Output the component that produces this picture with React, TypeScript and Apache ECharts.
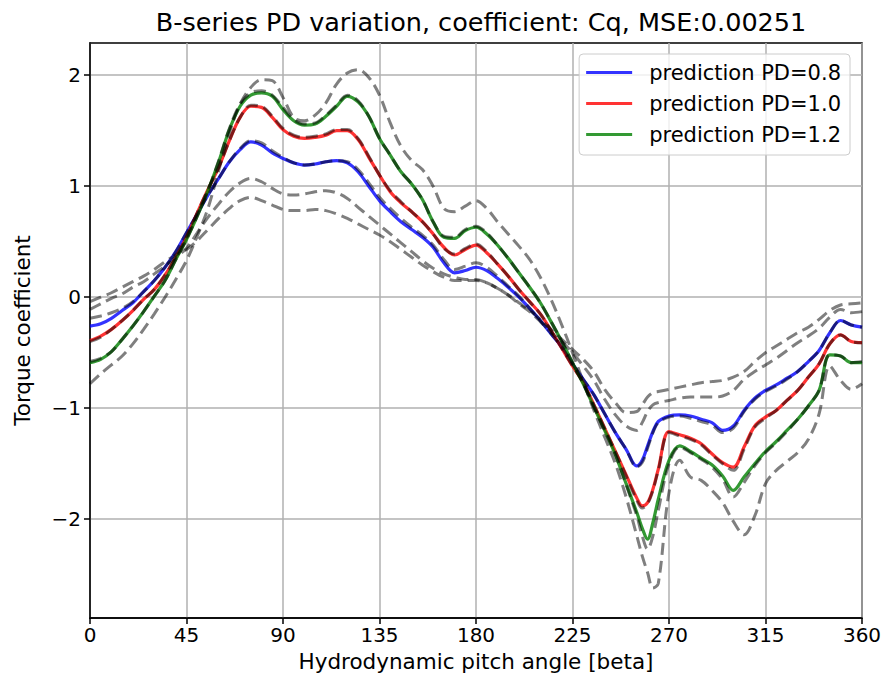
import React, { useEffect, useRef } from "react";
import * as echarts from "echarts";

// Hydrodynamic pitch angle grid (degrees)
const angles = [
  0, 5, 10, 15, 20, 25, 30, 35, 40, 45, 50, 55, 60, 65, 70, 75, 80, 85, 90, 95,
  100, 105, 110, 115, 120, 125, 130, 135, 140, 145, 150, 155, 160, 165, 170, 175,
  180, 185, 190, 195, 200, 205, 210, 215, 220, 225, 230, 235, 240, 245, 250, 255,
  257.5, 260, 262.5, 265, 270, 275, 280, 285, 290, 295, 300, 305, 310, 315, 320,
  325, 330, 335, 340, 345, 350, 355, 360,
];

// Predictions
const predPD08 = [
  -0.26, -0.24, -0.19, -0.12, -0.05, 0.05, 0.15, 0.27, 0.41, 0.58, 0.75, 0.92, 1.07, 1.22, 1.33, 1.40, 1.37, 1.30, 1.25, 1.21,
  1.19, 1.20, 1.22, 1.23, 1.21, 1.13, 1.00, 0.87, 0.77, 0.68, 0.61, 0.54, 0.45, 0.31, 0.22, 0.24,
  0.27, 0.24, 0.17, 0.09, 0.00, -0.10, -0.21, -0.33, -0.45, -0.60, -0.74, -0.88, -1.05, -1.22, -1.37, -1.52,
  -1.47, -1.34, -1.21, -1.12, -1.07, -1.06, -1.07, -1.10, -1.13, -1.20, -1.16, -1.02, -0.91, -0.84, -0.79,
  -0.73, -0.67, -0.58, -0.48, -0.32, -0.21, -0.25, -0.27,
];
const predPD10 = [
  -0.39, -0.35, -0.29, -0.21, -0.12, -0.02, 0.07, 0.20, 0.36, 0.54, 0.76, 0.97, 1.17, 1.41, 1.62, 1.72, 1.71, 1.62, 1.51, 1.45,
  1.43, 1.44, 1.46, 1.50, 1.50, 1.42, 1.26, 1.10, 0.95, 0.85, 0.77, 0.68, 0.57, 0.45, 0.38, 0.43,
  0.47, 0.40, 0.30, 0.19, 0.07, -0.04, -0.15, -0.30, -0.46, -0.62, -0.77, -0.97, -1.18, -1.39, -1.60, -1.81,
  -1.88, -1.85, -1.73, -1.55, -1.21, -1.24, -1.27, -1.32, -1.41, -1.49, -1.53, -1.35, -1.16, -1.08, -1.02,
  -0.93, -0.84, -0.72, -0.60, -0.42, -0.34, -0.40, -0.41,
];
const predPD12 = [
  -0.59, -0.56, -0.49, -0.38, -0.26, -0.13, 0.01, 0.15, 0.34, 0.52, 0.73, 0.96, 1.22, 1.51, 1.72, 1.82, 1.84, 1.81, 1.69, 1.59,
  1.55, 1.56, 1.63, 1.72, 1.81, 1.76, 1.63, 1.43, 1.28, 1.13, 1.02, 0.88, 0.68, 0.54, 0.53, 0.60,
  0.63, 0.57, 0.47, 0.35, 0.22, 0.09, -0.05, -0.22, -0.40, -0.59, -0.78, -0.99, -1.20, -1.42, -1.68, -1.94,
  -2.08, -2.18, -2.03, -1.82, -1.47, -1.34, -1.39, -1.45, -1.51, -1.61, -1.74, -1.62, -1.50, -1.39, -1.30,
  -1.20, -1.10, -0.98, -0.84, -0.52, -0.53, -0.59, -0.59,
];

// Reference data (dashed)
const truePD05 = [
  -0.04, 0.00, 0.04, 0.09, 0.14, 0.19, 0.25, 0.32, 0.38, 0.43, 0.51, 0.61, 0.71, 0.80, 0.87, 0.90, 0.87, 0.83, 0.79, 0.78,
  0.78, 0.79, 0.78, 0.75, 0.71, 0.66, 0.61, 0.56, 0.50, 0.43, 0.36, 0.29, 0.23, 0.18, 0.15, 0.15,
  0.15, 0.13, 0.08, 0.02, -0.05, -0.12, -0.20, -0.29, -0.38, -0.47, -0.56, -0.67, -0.83, -0.95, -1.04, -1.03,
  -0.97, -0.90, -0.86, -0.85, -0.83, -0.81, -0.79, -0.77, -0.76, -0.75, -0.72, -0.67, -0.58, -0.50, -0.44,
  -0.38, -0.32, -0.27, -0.20, -0.12, -0.07, -0.06, -0.05,
];
const truePD06 = [
  -0.11, -0.06, -0.01, 0.03, 0.09, 0.14, 0.21, 0.28, 0.36, 0.44, 0.58, 0.72, 0.84, 0.95, 1.03, 1.07, 1.04, 0.98, 0.93, 0.92,
  0.93, 0.95, 0.96, 0.94, 0.89, 0.81, 0.73, 0.65, 0.57, 0.49, 0.41, 0.33, 0.26, 0.21, 0.18, 0.16,
  0.16, 0.13, 0.08, 0.02, -0.06, -0.13, -0.22, -0.32, -0.40, -0.50, -0.62, -0.75, -0.92, -1.06, -1.16, -1.20,
  -1.13, -1.03, -0.97, -0.95, -0.93, -0.91, -0.90, -0.90, -0.90, -0.89, -0.84, -0.74, -0.67, -0.61, -0.55,
  -0.48, -0.41, -0.35, -0.28, -0.18, -0.11, -0.14, -0.13,
];
const truePD08 = [
  -0.19, -0.17, -0.14, -0.10, -0.04, 0.05, 0.15, 0.27, 0.41, 0.58, 0.75, 0.92, 1.07, 1.22, 1.34, 1.41, 1.39, 1.32, 1.26, 1.21,
  1.19, 1.20, 1.22, 1.23, 1.22, 1.15, 1.03, 0.90, 0.80, 0.71, 0.63, 0.56, 0.47, 0.34, 0.25, 0.28,
  0.31, 0.27, 0.19, 0.10, 0.01, -0.10, -0.21, -0.33, -0.45, -0.60, -0.74, -0.88, -1.05, -1.22, -1.37, -1.53,
  -1.49, -1.36, -1.22, -1.13, -1.08, -1.07, -1.09, -1.12, -1.15, -1.22, -1.18, -1.03, -0.92, -0.85, -0.80,
  -0.74, -0.67, -0.58, -0.48, -0.32, -0.21, -0.25, -0.27,
];
const truePD10 = [
  -0.40, -0.36, -0.29, -0.21, -0.12, -0.02, 0.07, 0.20, 0.36, 0.54, 0.76, 0.97, 1.17, 1.41, 1.62, 1.73, 1.72, 1.63, 1.52, 1.46,
  1.44, 1.45, 1.47, 1.51, 1.51, 1.43, 1.27, 1.10, 0.96, 0.86, 0.77, 0.68, 0.57, 0.44, 0.39, 0.44,
  0.48, 0.41, 0.30, 0.19, 0.07, -0.04, -0.15, -0.30, -0.46, -0.62, -0.77, -0.97, -1.18, -1.39, -1.61, -1.83,
  -1.90, -1.86, -1.74, -1.56, -1.22, -1.25, -1.28, -1.33, -1.42, -1.50, -1.56, -1.37, -1.17, -1.09, -1.02,
  -0.93, -0.84, -0.72, -0.60, -0.42, -0.34, -0.40, -0.41,
];
const truePD12 = [
  -0.58, -0.55, -0.49, -0.38, -0.26, -0.13, 0.01, 0.15, 0.34, 0.52, 0.73, 0.96, 1.23, 1.52, 1.74, 1.84, 1.86, 1.82, 1.71, 1.60,
  1.56, 1.57, 1.64, 1.73, 1.82, 1.77, 1.63, 1.43, 1.28, 1.13, 1.02, 0.88, 0.68, 0.55, 0.54, 0.61,
  0.64, 0.58, 0.47, 0.35, 0.22, 0.09, -0.05, -0.22, -0.40, -0.59, -0.78, -0.99, -1.20, -1.42, -1.69, -1.97,
  -2.15, -2.27, -2.15, -1.92, -1.50, -1.35, -1.40, -1.46, -1.53, -1.64, -1.80, -1.67, -1.52, -1.40, -1.31,
  -1.21, -1.10, -0.98, -0.84, -0.52, -0.53, -0.59, -0.58,
];
const truePD14 = [
  -0.78, -0.69, -0.61, -0.53, -0.42, -0.29, -0.15, 0.00, 0.16, 0.33, 0.55, 0.80, 1.14, 1.48, 1.74, 1.89, 1.96, 1.95, 1.80, 1.62,
  1.59, 1.64, 1.75, 1.92, 2.02, 2.05, 1.98, 1.82, 1.57, 1.36, 1.23, 1.15, 1.00, 0.80, 0.77, 0.82,
  0.87, 0.80, 0.68, 0.57, 0.46, 0.34, 0.18, -0.02, -0.25, -0.50, -0.76, -1.02, -1.26, -1.50, -1.80, -2.15,
  -2.33, -2.48, -2.62, -2.58, -1.76, -1.47, -1.62, -1.65, -1.74, -1.85, -2.02, -2.14, -1.97, -1.68, -1.56,
  -1.48, -1.40, -1.28, -1.05, -0.62, -0.75, -0.83, -0.78,
];

const xTicks = [0, 45, 90, 135, 180, 225, 270, 315, 360];
const yTicks = [-2, -1, 0, 1, 2];

const predictions = [
  { name: "prediction PD=0.8", values: predPD08, color: "rgba(0,0,255,0.8)" },
  { name: "prediction PD=1.0", values: predPD10, color: "rgba(255,0,0,0.8)" },
  { name: "prediction PD=1.2", values: predPD12, color: "rgba(0,128,0,0.8)" },
];
const references = [truePD05, truePD06, truePD08, truePD10, truePD12, truePD14];

const FONT = "DejaVu Sans";

export default function App() {
  const ref = useRef<HTMLDivElement>(null);

  useEffect(() => {
    if (!ref.current) return;
    const chart = echarts.init(ref.current, null, { renderer: "svg" });
    const toPairs = (vals: number[]) => angles.map((x, i) => [x, vals[i]]);

    const series: any[] = [];
    predictions.forEach((p) => {
      series.push({
        name: p.name,
        type: "line",
        data: toPairs(p.values),
        smooth: 0.35,
        showSymbol: false,
        symbol: "none",
        lineStyle: { color: p.color, width: 3.2 },
        itemStyle: { color: p.color },
        z: 2,
      });
    });
    references.forEach((r, k) => {
      series.push({
        name: "ref" + k,
        type: "line",
        data: toPairs(r),
        smooth: 0.35,
        showSymbol: false,
        symbol: "none",
        lineStyle: { color: "rgba(0,0,0,0.5)", width: 3, type: [12, 6] },
        z: 3,
      });
    });

    chart.setOption({
      animation: false,
      backgroundColor: "#fff",
      title: {
        text: "B-series PD variation, coefficient: Cq, MSE:0.00251",
        left: 476,
        textAlign: "center",
        top: 4,
        textStyle: { fontFamily: FONT, fontSize: 25.5, fontWeight: "normal", color: "#000" },
      },
      legend: {
        data: predictions.map((p) => p.name),
        orient: "vertical",
        right: 38,
        top: 54,
        icon: "rect",
        itemWidth: 46,
        itemHeight: 3,
        itemGap: 10,
        padding: [8, 9, 10, 7],
        backgroundColor: "rgba(255,255,255,0.8)",
        borderColor: "#cccccc",
        borderWidth: 1,
        borderRadius: 4,
        textStyle: { fontFamily: FONT, fontSize: 21, color: "#000", padding: [0, 0, 0, 12] },
      },
      grid: {
        left: 90,
        top: 43,
        width: 772,
        height: 575,
        show: true,
        borderColor: "#000",
        borderWidth: 1.5,
        backgroundColor: "transparent",
      },
      xAxis: {
        type: "value",
        min: 0,
        max: 360,
        interval: 45,
        name: "Hydrodynamic pitch angle [beta]",
        nameLocation: "middle",
        nameGap: 32,
        nameTextStyle: { fontFamily: FONT, fontSize: 21.5, color: "#000" },
        axisLine: { show: true, onZero: false, lineStyle: { color: "#000", width: 1.5 } },
        axisTick: { show: true, length: 6, lineStyle: { color: "#000", width: 1.5 } },
        axisLabel: {
          fontFamily: FONT,
          fontSize: 20,
          color: "#000",
          margin: 7,
          customValues: xTicks,
        },
        splitLine: { show: true, lineStyle: { color: "#b0b0b0", width: 1.5 } },
      },
      yAxis: {
        type: "value",
        min: -2.89,
        max: 2.29,
        name: "Torque coefficient",
        nameLocation: "middle",
        nameGap: 57,
        nameTextStyle: { fontFamily: FONT, fontSize: 21.5, color: "#000" },
        axisLine: { show: true, onZero: false, lineStyle: { color: "#000", width: 1.5 } },
        axisTick: {
          show: true,
          length: 6,
          lineStyle: { color: "#000", width: 1.5 },
          customValues: yTicks,
        },
        axisLabel: {
          fontFamily: FONT,
          fontSize: 20,
          color: "#000",
          margin: 9,
          customValues: yTicks,
          formatter: (v: number) => (v < 0 ? "\u2212" + Math.abs(v) : String(v)),
        },
        splitLine: { show: true, lineStyle: { color: "#b0b0b0", width: 1.5 } },
      },
      series,
    });

    return () => chart.dispose();
  }, []);

  return (
    <div
      ref={ref}
      style={{ position: "fixed", left: 0, top: 0, width: 888, height: 690, background: "#fff" }}
    />
  );
}
